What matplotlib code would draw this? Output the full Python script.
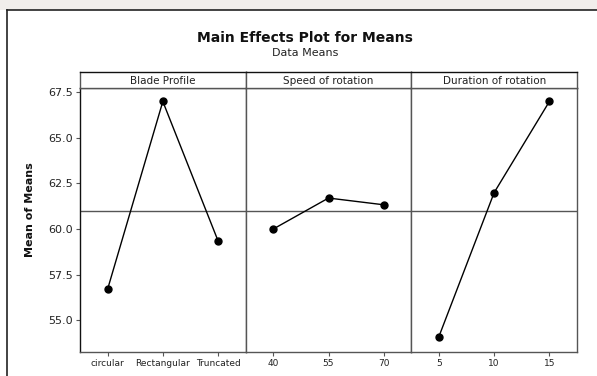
import numpy as np
import matplotlib.pyplot as plt
from matplotlib.patches import Rectangle

# dati
factors = ["Blade Profile", "Speed of rotation", "Duration of rotation"]
levels = [
    ["circular", "Rectangular", "Truncated"],
    ["40", "55", "70"],
    ["5", "10", "15"],
]
means = [
    [56.70, 67.00, 59.35],
    [60.00, 61.70, 61.33],
    [54.10, 62.00, 67.00],
]
grand_mean = 61.0
y_ticks = [55.0, 57.5, 60.0, 62.5, 65.0, 67.5]

W, H = 597, 376
fig = plt.figure(figsize=(W / 100, H / 100), dpi=100)
fig.patch.set_facecolor("white")

# fascia di sfondo in alto e bordo esterno (solo sinistra/alto visibili)
fig.patches.append(Rectangle((0, 1 - 10 / H), 1, 10 / H, transform=fig.transFigure,
                             facecolor="#f1eeeb", edgecolor="none", zorder=0))
fig.add_artist(plt.Line2D([7 / W, 7 / W], [0, 1 - 10 / H], transform=fig.transFigure,
                          color="#222222", lw=1.2))
fig.add_artist(plt.Line2D([7 / W, 1], [1 - 10 / H, 1 - 10 / H], transform=fig.transFigure,
                          color="#222222", lw=1.2))

x0, x1 = 80, 577
top, bottom = 88, 352
strip_top = 72
pw = (x1 - x0) / 3
spine_col = "#555555"

for i, (fac, lev, m) in enumerate(zip(factors, levels, means)):
    left = x0 + i * pw
    ax = fig.add_axes([left / W, 1 - bottom / H, pw / W, (bottom - top) / H])
    xs = np.arange(len(lev))
    ax.plot(xs, m, color="black", lw=1, marker="o", ms=5, zorder=3)
    ax.axhline(grand_mean, color="#555555", lw=1, zorder=2)
    ax.set_xlim(-0.5, 2.5)
    ax.set_ylim(53.25, 67.74)
    ax.set_xticks(xs)
    ax.set_xticklabels(lev, fontsize=6.5, color="#222222")
    ax.tick_params(axis="x", direction="out", length=3, pad=2, color=spine_col)
    if i == 0:
        ax.set_yticks(y_ticks)
        ax.set_yticklabels([f"{v:.1f}" for v in y_ticks], fontsize=8, color="#222222")
        ax.tick_params(axis="y", direction="out", length=3, pad=2, color=spine_col)
    else:
        ax.set_yticks([])
    for s in ax.spines.values():
        s.set_color(spine_col)
        s.set_linewidth(1)
    if i == 0:
        ax.spines["left"].set_color("#111111")

    # striscia con il nome del fattore
    sax = fig.add_axes([left / W, 1 - top / H, pw / W, (top - strip_top) / H])
    sax.set_xticks([])
    sax.set_yticks([])
    for s in sax.spines.values():
        s.set_color(spine_col)
        s.set_linewidth(1)
    sax.spines["top"].set_color("#111111")
    sax.text(0.5, 0.45, fac, ha="center", va="center", fontsize=7.5,
             color="#222222", transform=sax.transAxes)

fig.text(305 / W, 1 - 38 / H, "Main Effects Plot for Means", ha="center", va="center",
         fontsize=10, fontweight="bold", color="#111111")
fig.text(305 / W, 1 - 53 / H, "Data Means", ha="center", va="center",
         fontsize=8, color="#222222")
fig.text(30 / W, 1 - 210 / H, "Mean of Means", ha="center", va="center",
         rotation=90, fontsize=8, fontweight="bold", color="#111111")

fig.savefig("out.png", dpi=100)
